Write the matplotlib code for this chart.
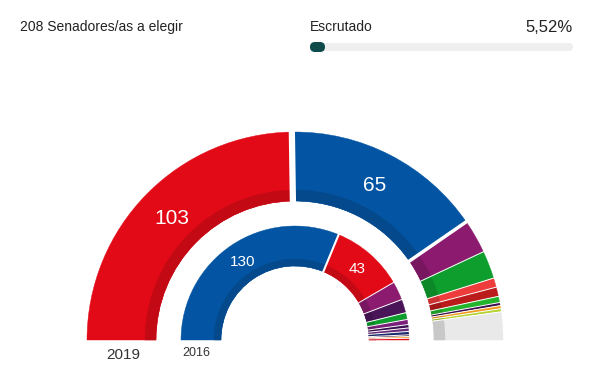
import numpy as np
import matplotlib.pyplot as plt
from matplotlib.patches import Wedge, FancyBboxPatch
from matplotlib.colors import to_rgb

plt.rcParams['font.family'] = ['Liberation Sans', 'DejaVu Sans']

# datos
total = 208
escrutado = 5.52
seats_2019 = [103, 65, 11, 9, 3, 3, 2, 1, 1, 1, 9]
colors_2019 = ['#E20A17', '#0355A3', '#8C1A6F', '#0E9E2E', '#EE3B3B', '#BC1B1B',
               '#22B52B', '#3A1050', '#F39A1E', '#B5D334', '#E9E9E9']
labels_2019 = ['103', '65', '', '', '', '', '', '', '', '', '']
seats_2016 = [130, 43, 11, 8, 4, 3, 2, 2, 2, 1, 1, 1]
colors_2016 = ['#0355A3', '#E20A17', '#8C1A6F', '#4A1458', '#0E9E2E', '#7A1F7A',
               '#3A1050', '#6A2A7A', '#1D2C6E', '#2A0E3A', '#F39A1E', '#E20A17']
labels_2016 = ['130', '43', '', '', '', '', '', '', '', '', '', '']

W, H = 591, 382
fig = plt.figure(figsize=(W / 100, H / 100), dpi=100)
ax = fig.add_axes([0, 0, 1, 1])
ax.set_xlim(0, W)
ax.set_ylim(0, H)
ax.axis('off')

cx, cy = 295, H - 340


def darker(c, f=0.86):
    r, g, b = to_rgb(c)
    return (r * f, g * f, b * f)


def ring(seats, colors, labels, r_out, r_in, band, gaps, fs):
    start = 180.0
    for i, (s, c) in enumerate(zip(seats, colors)):
        end = start - s / total * 180.0
        ax.add_patch(Wedge((cx, cy), r_out, end, start, width=r_out - r_in,
                           facecolor=c, edgecolor=c, lw=0.3))
        ax.add_patch(Wedge((cx, cy), r_in + band, end, start, width=band,
                           facecolor=darker(c), edgecolor=darker(c), lw=0.3))
        if labels[i]:
            a = np.radians((start + end) / 2)
            rm = (r_out + r_in) / 2
            ax.text(cx + rm * np.cos(a), cy + rm * np.sin(a), labels[i],
                    color='white', fontsize=fs, ha='center', va='center')
        start = end
    # separaciones entre partidos
    start = 180.0
    for i, s in enumerate(seats[:-1]):
        start -= s / total * 180.0
        g = gaps[i] if i < len(gaps) else 0.7
        a = np.radians(start)
        ax.plot([cx + (r_in - 1) * np.cos(a), cx + (r_out + 2) * np.cos(a)],
                [cy + (r_in - 1) * np.sin(a), cy + (r_out + 2) * np.sin(a)],
                color='white', lw=g, solid_capstyle='butt')


ring(seats_2019, colors_2019, labels_2019, 208, 139, 11, [4.5, 2.5], 15)
ring(seats_2016, colors_2016, labels_2016, 114, 74, 7, [1.5], 11)

ax.text(123, H - 355, '2019', fontsize=11, color='#333333', ha='center', va='center')
ax.text(196, H - 353, '2016', fontsize=9, color='#333333', ha='center', va='center')

# cabecera
ax.text(20, H - 27, '208 Senadores/as a elegir', fontsize=10, color='#222222',
        ha='left', va='center')
ax.text(310, H - 27, 'Escrutado', fontsize=10, color='#222222', ha='left', va='center')
ax.text(573, H - 27, '5,52%', fontsize=12, color='#222222', ha='right', va='center')
bx0, bx1, by = 310, 573, H - 47
ax.add_patch(FancyBboxPatch((bx0 + 4, by), bx1 - bx0 - 8, 0,
                            boxstyle='round,pad=4',
                            facecolor='#EFEFEF', edgecolor='none'))
fw = max((bx1 - bx0) * escrutado / 100, 15)
ax.add_patch(FancyBboxPatch((bx0 + 5, by), fw - 10, 0,
                            boxstyle='round,pad=5',
                            facecolor='#0F4A4A', edgecolor='none'))

fig.savefig('out.png', dpi=100)
